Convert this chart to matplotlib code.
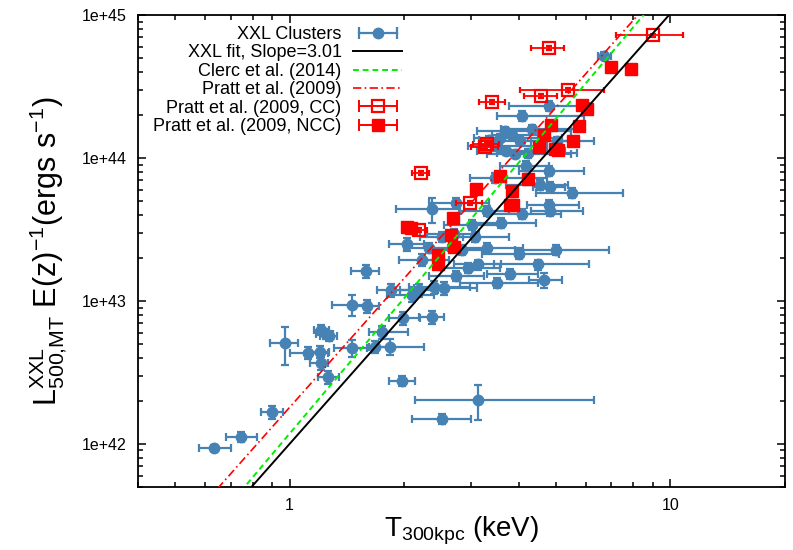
import numpy as np
import matplotlib
matplotlib.use('Agg')
import matplotlib.pyplot as plt
from matplotlib.lines import Line2D
from matplotlib.legend_handler import HandlerLine2D, HandlerTuple
from matplotlib.ticker import FuncFormatter, LogLocator, NullFormatter

plt.rcParams['font.family'] = ['Liberation Sans', 'DejaVu Sans']
plt.rcParams['mathtext.fontset'] = 'custom'
plt.rcParams['mathtext.rm'] = 'Liberation Sans'
plt.rcParams['mathtext.it'] = 'Liberation Sans:italic'

# XXL clusters: temperature (keV), error-bar bounds, luminosity (erg/s), relative L error
xxl_T = [6.7, 4.8, 4.09, 3.69, 3.58, 4.34, 3.5, 3.71, 4.03, 3.91, 4.22, 5.05, 3.35, 3.84,
         4.19, 4.8, 3.47, 4.84, 4.55, 5.53, 4.8, 4.83, 4.09, 3.29, 2.74, 2.37, 3.02, 3.6,
         2.04, 1.59, 2.23, 1.85, 2.1, 2.19, 2.4, 2.55, 2.7, 3.06, 2.83, 3.3, 4.0, 5.0,
         4.5, 2.95, 3.13, 2.73, 3.5, 4.65, 3.8, 2.52, 2.33,
         1.46, 1.6, 1.46, 1.68, 1.84, 1.75, 1.99, 2.37, 1.97, 3.13, 2.52, 0.97, 1.115,
         1.2, 1.21, 1.21, 1.25, 1.27, 1.26, 0.897, 0.745, 0.635]
xxl_Tlo = [6.45, 3.78, 3.5, 3.1, 3.05, 3.6, 2.95, 3.1, 3.3, 3.3, 3.5, 4.3, 3.15, 3.4,
           3.56, 4.0, 2.97, 4.35, 3.7, 4.45, 4.2, 4.3, 3.3, 2.8, 2.33, 1.9, 2.55, 2.97,
           1.83, 1.45, 1.94, 1.7, 1.8, 1.95, 2.06, 2.12, 2.3, 2.55, 2.4, 2.63, 3.2, 3.9,
           3.45, 2.5, 2.7, 2.33, 2.8, 4.25, 3.3, 2.2, 2.0,
           1.29, 1.45, 1.31, 1.62, 1.67, 1.62, 1.83, 2.19, 1.82, 2.14, 2.1, 0.89, 1.0,
           1.13, 1.13, 1.16, 1.17, 1.2, 1.19, 0.84, 0.68, 0.58]
xxl_Thi = [6.99, 6.13, 5.95, 5.5, 5.2, 5.77, 4.75, 5.3, 5.65, 5.5, 5.7, 6.3, 3.56, 4.5,
           4.8, 5.95, 4.75, 5.3, 5.4, 7.5, 5.77, 5.9, 5.15, 3.78, 3.35, 2.79, 3.56, 4.45,
           2.25, 1.72, 2.63, 2.07, 2.4, 2.45, 2.97, 3.1, 3.15, 3.78, 3.35, 4.1, 5.1, 6.91,
           6.13, 3.56, 3.6, 3.25, 4.5, 5.2, 4.5, 2.85, 2.6,
           1.63, 1.72, 1.6, 1.83, 2.25, 2.05, 2.2, 2.55, 2.14, 6.3, 3.0, 1.05, 1.26,
           1.27, 1.26, 1.27, 1.3, 1.33, 1.35, 0.96, 0.82, 0.7]
xxl_L = [5.2e44, 2.3e44, 1.97e44, 1.55e44, 1.38e44, 1.6e44, 1.21e44, 1.12e44, 1.31e44,
         1.07e44, 1.08e44, 1.31e44, 1.33e44, 1.45e44, 8.8e43, 8.1e43, 7.25e43, 6.3e43,
         6.5e43, 5.7e43, 4.7e43, 4.25e43, 4.07e43, 4.25e43, 4.84e43, 4.4e43, 3.4e43,
         3.5e43, 2.5e43, 1.62e43, 1.94e43, 1.19e43, 1.1e43, 1.19e43, 1.25e43, 1.23e43,
         2.94e43, 2.8e43, 2.27e43, 2.36e43, 2.14e43, 2.27e43, 1.8e43, 1.7e43, 1.8e43,
         1.5e43, 1.34e43, 1.4e43, 1.55e43, 2.8e43, 2.35e43,
         9.4e42, 9.2e42, 4.7e42, 4.8e42, 4.8e42, 6.07e42, 7.6e42, 7.7e42, 2.75e42,
         2.03e42, 1.5e42, 5.08e42, 4.33e42, 4.4e42, 3.68e42, 6.27e42, 5.9e42, 5.7e42,
         2.94e42, 1.67e42, 1.12e42, 9.4e41]
xxl_Lerr = [0.06, 0.08, 0.08, 0.07, 0.07, 0.07, 0.07, 0.07, 0.07, 0.07, 0.07, 0.07, 0.07,
            0.07, 0.08, 0.08, 0.08, 0.08, 0.08, 0.08, 0.08, 0.08, 0.08, 0.08, 0.08, 0.2,
            0.08, 0.08, 0.1, 0.1, 0.1, 0.1, 0.1, 0.1, 0.1, 0.1, 0.08, 0.08, 0.08, 0.08,
            0.08, 0.08, 0.08, 0.08, 0.08, 0.08, 0.08, 0.12, 0.08, 0.08, 0.08,
            0.17, 0.1, 0.13, 0.1, 0.13, 0.1, 0.1, 0.1, 0.08, 0.27, 0.08, 0.3, 0.1,
            0.1, 0.1, 0.08, 0.08, 0.08, 0.1, 0.1, 0.08, 0.05]

# Pratt et al. (2009) cool-core and non-cool-core clusters
cc_T = [4.79, 9.0, 5.37, 4.58, 3.41, 3.29, 3.26, 2.21, 2.97, 2.19]
cc_L = [5.9e44, 7.2e44, 3.0e44, 2.72e44, 2.46e44, 1.25e44, 1.2e44, 7.85e43, 4.84e43, 3.14e43]
cc_Terr = [0.1, 0.2, 0.25, 0.1, 0.08, 0.08, 0.08, 0.05, 0.08, 0.05]
ncc_T = [7.0, 7.86, 5.87, 6.05, 4.87, 5.74, 4.67, 5.56, 4.53, 4.98, 5.08, 3.56, 4.24,
         3.09, 3.84, 3.8, 3.87, 2.69, 2.08, 2.04, 2.45, 2.45, 2.66, 2.71]
ncc_L = [4.33e44, 4.2e44, 2.35e44, 2.2e44, 1.7e44, 1.68e44, 1.45e44, 1.31e44, 1.19e44,
         1.16e44, 1.14e44, 7.48e43, 7.1e43, 6.07e43, 5.88e43, 4.69e43, 4.69e43, 3.8e43,
         3.24e43, 3.3e43, 2.1e43, 1.8e43, 2.9e43, 2.4e43]

# scaling relations: L = norm * T^slope
fit_norm, fit_slope = 1.0e42, 3.01
clerc_norm, clerc_slope = 1.18e42, 3.15
pratt_norm, pratt_slope = 1.8e42, 3.0

fig = plt.figure(figsize=(7.93, 5.50), dpi=100)
ax = fig.add_axes([138 / 793, 1 - 487 / 550, (785 - 138) / 793, (487 - 15) / 550])

blue = '#4682b4'
red = '#ff0000'

T = np.array(xxl_T)
L = np.array(xxl_L)
xerr = [T - np.array(xxl_Tlo), np.array(xxl_Thi) - T]
yerr = L * np.array(xxl_Lerr)
ax.errorbar(T, L, xerr=xerr, yerr=yerr, fmt='o', color=blue, ms=7.5,
            elinewidth=1.6, capsize=3, capthick=1.6, zorder=2)

tline = np.array([0.4, 20.0])
h_fit, = ax.plot(tline, fit_norm * tline ** fit_slope, color='black', lw=1.4, zorder=4)
h_clerc, = ax.plot(tline, clerc_norm * tline ** clerc_slope, color='#00ee00', lw=1.4,
                   ls=(0, (3, 2)), zorder=4)
h_pratt, = ax.plot(tline, pratt_norm * tline ** pratt_slope, color=red, lw=1.2,
                   ls=(0, (5, 2, 1, 2)), zorder=4)

cT = np.array(cc_T)
cL = np.array(cc_L)
ax.errorbar(cT, cL, xerr=np.array(cc_Terr) * cT, yerr=0.03 * cL, fmt='s',
            color=red, mfc='none', mew=1.6, ms=8, elinewidth=1.3, capsize=2.5, zorder=3)
nT = np.array(ncc_T)
nL = np.array(ncc_L)
ax.errorbar(nT, nL, xerr=0.02 * nT, yerr=0.03 * nL, fmt='s', color=red,
            ms=9, elinewidth=1.3, capsize=2.5, zorder=3)

ax.set_xscale('log')
ax.set_yscale('log')
ax.set_xlim(0.4, 20)
ax.set_ylim(5e41, 1e45)

ax.xaxis.set_major_locator(LogLocator(base=10))
ax.xaxis.set_major_formatter(FuncFormatter(lambda v, p: '%g' % v))
ax.xaxis.set_minor_formatter(NullFormatter())
ax.yaxis.set_major_formatter(FuncFormatter(lambda v, p: '1e+%d' % round(np.log10(v))))
ax.yaxis.set_minor_formatter(NullFormatter())
ax.tick_params(which='both', direction='in', top=True, right=True, labelsize=11.5,
               width=1.1)
ax.tick_params(which='major', length=6, pad=8)
ax.tick_params(which='minor', length=3.5)
for s in ax.spines.values():
    s.set_linewidth(1.3)

ax.set_xlabel(r'$\mathregular{T_{300kpc}}$ (keV)', fontsize=20, labelpad=1)
ax.set_ylabel(r'$\mathregular{L^{XXL}_{500{,}MT}\ E(z)^{-1}(ergs\ s^{-1})}$',
              fontsize=22, labelpad=9)

# legend entries drawn gnuplot-style: horizontal bar with end caps plus the symbol
caps = HandlerLine2D(numpoints=2)
single = HandlerLine2D(numpoints=1)
bar_b = Line2D([], [], color=blue, lw=1.6, marker='|', ms=8, mew=1.6)
dot_b = Line2D([], [], color=blue, ls='none', marker='o', ms=7.5)
bar_r1 = Line2D([], [], color=red, lw=1.4, marker='|', ms=8, mew=1.4)
sq_open = Line2D([], [], color=red, ls='none', marker='s', mfc='none', mew=1.6, ms=8)
bar_r2 = Line2D([], [], color=red, lw=1.4, marker='|', ms=8, mew=1.4)
sq_fill = Line2D([], [], color=red, ls='none', marker='s', ms=9)
hmap = {bar_b: caps, bar_r1: caps, bar_r2: caps,
        dot_b: single, sq_open: single, sq_fill: single,
        tuple: HandlerTuple(ndivide=1, pad=0)}

ax.legend(handles=[(bar_b, dot_b), h_fit, h_clerc, h_pratt, (bar_r1, sq_open),
                   (bar_r2, sq_fill)],
          labels=['XXL Clusters', 'XXL fit, Slope=3.01', 'Clerc et al. (2014)',
                  'Pratt et al. (2009)', 'Pratt et al. (2009, CC)',
                  'Pratt et al. (2009, NCC)'],
          handler_map=hmap, loc='upper right',
          bbox_to_anchor=(402 / 793, 1 - 26 / 550), bbox_transform=fig.transFigure,
          frameon=False, markerfirst=False, fontsize=13, handlelength=2.7,
          handletextpad=0.65, labelspacing=0.08, borderpad=0, borderaxespad=0)

fig.savefig('out.png', dpi=100)
